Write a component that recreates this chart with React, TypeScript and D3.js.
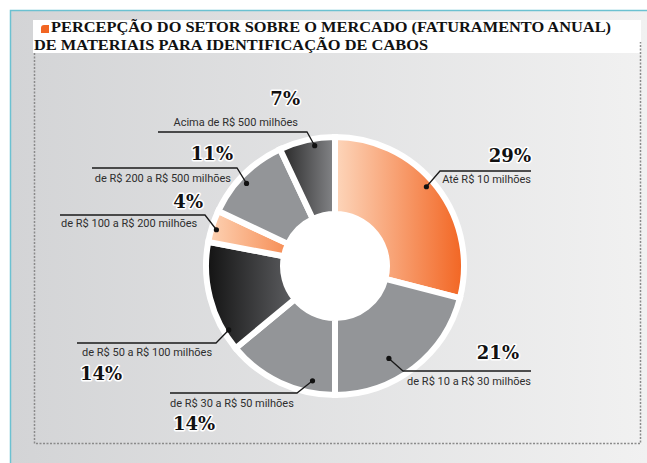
import React, { useEffect, useRef } from 'react'
import * as d3 from 'd3'

// faturamento anual - fatias do donut, em sentido horario a partir do topo
const categories = [
  'Até R$ 10 milhões',
  'de R$ 10 a R$ 30 milhões',
  'de R$ 30 a R$ 50 milhões',
  'de R$ 50 a R$ 100 milhões',
  'de R$ 100 a R$ 200 milhões',
  'de R$ 200 a R$ 500 milhões',
  'Acima de R$ 500 milhões',
]
const values = [29, 21, 14, 14, 4, 11, 7]
const percentLabels = ['29%', '21%', '14%', '14%', '4%', '11%', '7%']

const titleLines = [
  'PERCEPÇÃO DO SETOR SOBRE O MERCADO (FATURAMENTO ANUAL)',
  'DE MATERIAIS PARA IDENTIFICAÇÃO DE CABOS',
]

// estilos de cada fatia
const sliceFills = ['url(#gOrange)', '#939598', '#939598', 'url(#gBlack)', 'url(#gOrange2)', '#939598', 'url(#gDark)']

// posicao das anotacoes (ponto na fatia, cotovelo, linha, textos)
const annotations = [
  { t: 0.47, r: 121, elbow: [440, 171], end: 531, label: [531, 183, 'end'], pct: [531, 162, 'end'] },
  { t: 0.6, r: 107, elbow: [403, 371], end: 531, label: [531, 385, 'end'], pct: [519, 359, 'end'] },
  { t: 0.22, r: 117, elbow: [297, 393], end: 170, label: [170, 407, 'start'], pct: [173, 430, 'start'] },
  { t: 0.17, r: 124, elbow: [216, 343], end: 77, label: [82, 356, 'start'], pct: [80, 380, 'start'] },
  { t: 0.43, r: 124, elbow: [205, 215], end: 60, label: [61, 227, 'start'], pct: [203, 208, 'end'] },
  { t: 0.45, r: 121, elbow: [237, 168], end: 92, label: [231, 182, 'end'], pct: [233, 160, 'end'] },
  { t: 0.62, r: 122, elbow: [307, 132], end: 158, label: [298, 126, 'end'], pct: [300, 105, 'end'] },
]

const W = 647
const H = 463

const App = () => {
  const ref = useRef<SVGSVGElement>(null)

  useEffect(() => {
    const svg = d3.select(ref.current)
    svg.selectAll('*').remove()

    const defs = svg.append('defs')
    const grad = (id: string, c1: string, c2: string) => {
      const g = defs.append('linearGradient').attr('id', id).attr('x1', 0).attr('x2', 1).attr('y1', 0).attr('y2', 0)
      g.append('stop').attr('offset', '0%').attr('stop-color', c1)
      g.append('stop').attr('offset', '100%').attr('stop-color', c2)
    }
    grad('gPanel', '#d3d4d6', '#f1f1f1')
    grad('gOrange', '#fdd6bb', '#f26522')
    grad('gOrange2', '#fdd3b5', '#f68d55')
    grad('gBlack', '#121212', '#5e5f62')
    grad('gDark', '#262626', '#858689')

    // fundo
    svg.append('rect').attr('width', W).attr('height', H).attr('fill', '#fff')
    svg.append('rect').attr('x', 10).attr('y', 10).attr('width', W - 10).attr('height', H - 10).attr('fill', 'url(#gPanel)')
    svg.append('path')
      .attr('d', `M10.5,${H} V10.5 H${W}`)
      .attr('fill', 'none').attr('stroke', '#6cc1d1').attr('stroke-width', 1.5)

    // caixa do titulo
    svg.append('rect').attr('x', 33).attr('y', 20).attr('width', 608).attr('height', 33).attr('fill', '#fff')
    svg.append('path')
      .attr('d', 'M41,33 V28 Q41,25 44,25 H49 V33 Z')
      .attr('fill', '#f26522')

    // bordas pontilhadas
    svg.append('path')
      .attr('d', `M34.5,53 V443.5 H640.5 V42`)
      .attr('fill', 'none').attr('stroke', '#8a8a8a').attr('stroke-width', 1.5)
      .attr('stroke-dasharray', '2,1.5')

    svg.selectAll('.title')
      .data(titleLines)
      .enter()
      .append('text')
      .attr('class', 'title')
      .attr('x', (d, i) => (i === 0 ? 51 : 34))
      .attr('y', (d, i) => (i === 0 ? 32 : 50))
      .attr('textLength', (d, i) => (i === 0 ? 560 : 394))
      .attr('lengthAdjust', 'spacingAndGlyphs')
      .attr('font-family', 'Liberation Serif, serif')
      .attr('font-weight', 'bold')
      .attr('font-size', 15.5)
      .attr('fill', '#111')
      .text(d => d)

    // donut
    const cx = 335
    const cy = 266
    const pie = d3.pie<number>().sort(null).value(d => d)
    const arcs = pie(values)
    const arc = d3.arc<d3.PieArcDatum<number>>().innerRadius(52).outerRadius(129)

    const g = svg.append('g').attr('transform', `translate(${cx},${cy})`)
    g.append('circle').attr('r', 131).attr('fill', '#fff')
    g.selectAll('.slice')
      .data(arcs)
      .enter()
      .append('path')
      .attr('class', 'slice')
      .attr('d', arc)
      .attr('fill', (d, i) => sliceFills[i])
      .attr('stroke', '#fff')
      .attr('stroke-width', 6)
      .attr('stroke-linejoin', 'miter')

    // anotacoes
    const ann = svg.append('g')
    arcs.forEach((a, i) => {
      const lay = annotations[i]
      const ang = a.startAngle + lay.t * (a.endAngle - a.startAngle)
      const [px, py] = d3.pointRadial(ang, lay.r)
      const dot = [cx + px, cy + py]
      ann.append('path')
        .attr('d', `M${dot[0]},${dot[1]} L${lay.elbow[0]},${lay.elbow[1]} H${lay.end}`)
        .attr('fill', 'none').attr('stroke', '#1a1a1a').attr('stroke-width', 1.3)
      ann.append('circle').attr('cx', dot[0]).attr('cy', dot[1]).attr('r', 2.6).attr('fill', '#111')

      ann.append('text')
        .attr('x', lay.label[0]).attr('y', lay.label[1])
        .attr('text-anchor', lay.label[2] as string)
        .attr('font-family', 'Roboto, sans-serif')
        .attr('font-size', 11)
        .attr('fill', '#2e2e2e')
        .text(categories[i])

      ann.append('text')
        .attr('x', lay.pct[0]).attr('y', lay.pct[1])
        .attr('text-anchor', lay.pct[2] as string)
        .attr('font-family', 'DejaVu Serif, serif')
        .attr('font-weight', 'bold')
        .attr('font-size', 18)
        .attr('fill', '#111')
        .attr('stroke', '#fff')
        .attr('stroke-width', 3)
        .attr('paint-order', 'stroke')
        .attr('stroke-linejoin', 'round')
        .text(percentLabels[i])
    })
  }, [])

  return (
    <svg ref={ref} width={W} height={H} style={{ position: 'absolute', left: 0, top: 0 }} />
  )
}

export default App
